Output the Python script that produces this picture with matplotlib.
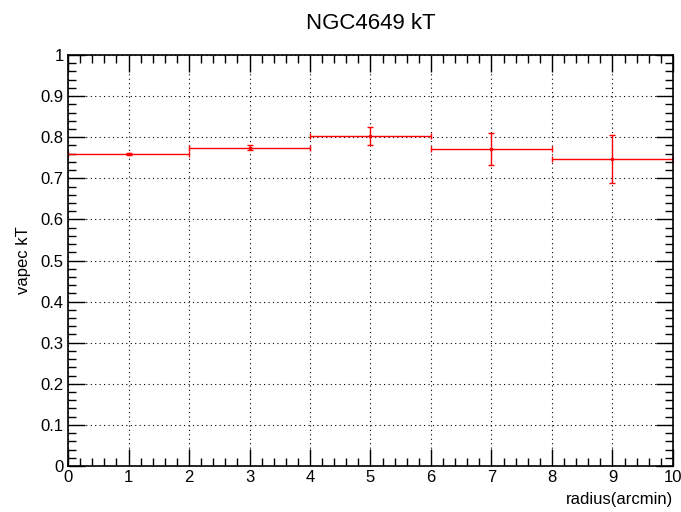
import matplotlib.pyplot as plt
from matplotlib.ticker import MultipleLocator, FuncFormatter

plt.rcParams["font.family"] = ["Liberation Sans", "DejaVu Sans"]

# annular bins (arcmin) and fitted temperatures
radius = [1, 3, 5, 7, 9]
radius_halfwidth = [1, 1, 1, 1, 1]
kT = [0.759, 0.774, 0.803, 0.771, 0.747]
kT_err = [0.003, 0.006, 0.021, 0.039, 0.058]


def fmt(v, pos):
    return "%g" % round(v, 3)


fig = plt.figure(figsize=(6.81, 5.12), dpi=100)
ax = fig.add_axes([0.0999, 0.0898, 0.8883, 0.8028])

ax.errorbar(
    radius,
    kT,
    xerr=radius_halfwidth,
    yerr=kT_err,
    fmt="o",
    color="red",
    markersize=1.6,
    linewidth=1.0,
    elinewidth=1.0,
    capsize=2,
    capthick=1.0,
)

ax.set_xlim(0, 10)
ax.set_ylim(0, 1)
ax.xaxis.set_major_locator(MultipleLocator(1))
ax.xaxis.set_minor_locator(MultipleLocator(0.2))
ax.yaxis.set_major_locator(MultipleLocator(0.1))
ax.yaxis.set_minor_locator(MultipleLocator(0.02))
ax.xaxis.set_major_formatter(FuncFormatter(fmt))
ax.yaxis.set_major_formatter(FuncFormatter(fmt))

ax.tick_params(which="both", direction="in", top=True, right=True,
               labelsize=12, width=1.0, color="black")
ax.tick_params(which="major", length=12, pad=3)
ax.tick_params(which="minor", length=6)
for s in ax.spines.values():
    s.set_linewidth(1.2)

ax.grid(True, which="major", color="black", linestyle=(0, (1, 3)), linewidth=0.8)

ax.set_title("NGC4649 kT", fontsize=16, pad=19)
ax.set_ylabel("vapec kT", fontsize=12, labelpad=7)
ax.set_xlabel("radius(arcmin)", fontsize=12, loc="right", labelpad=5)

fig.savefig("out.png", dpi=100)
